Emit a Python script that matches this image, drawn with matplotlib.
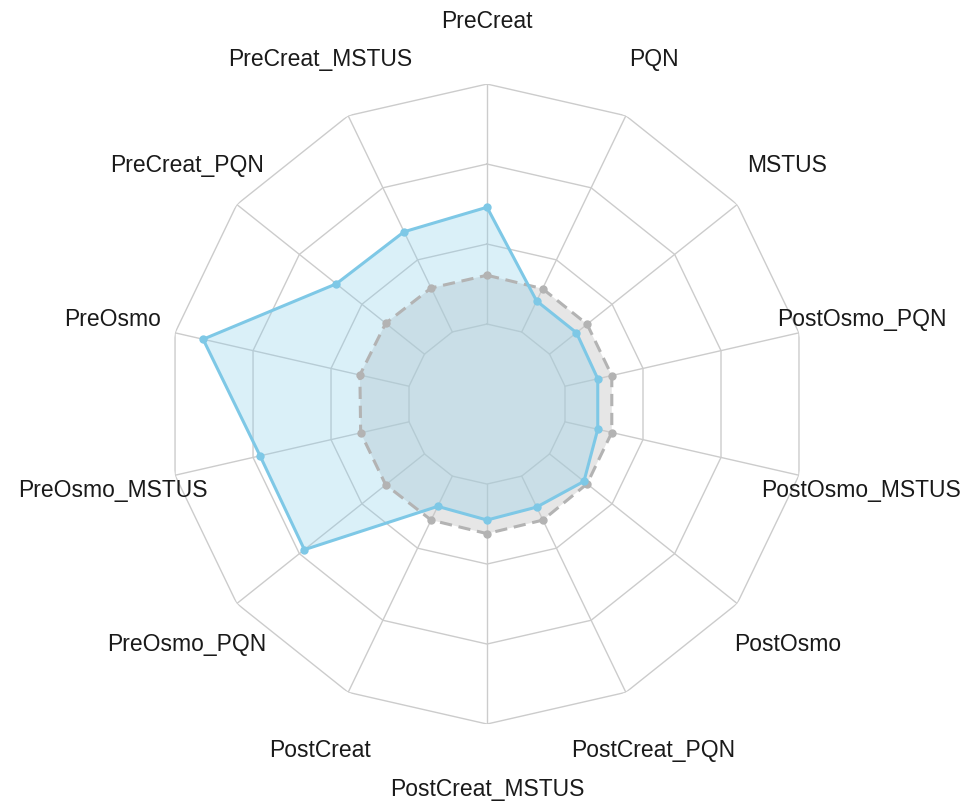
import numpy as np
import matplotlib
matplotlib.use("Agg")
from matplotlib import pyplot as plt

plt.rcParams["font.family"] = ["Liberation Sans", "DejaVu Sans"]

# 数据
categories = ["PreCreat", "PQN", "MSTUS", "PostOsmo_PQN", "PostOsmo_MSTUS",
              "PostOsmo", "PostCreat_PQN", "PostCreat_MSTUS", "PostCreat",
              "PreOsmo_PQN", "PreOsmo_MSTUS", "PreOsmo", "PreCreat_PQN",
              "PreCreat_MSTUS"]
blue_values = [2.46, 1.43, 1.43, 1.42, 1.42, 1.55, 1.43, 1.45, 1.42,
               2.92, 2.91, 3.64, 2.41, 2.39]
gray_values = [1.61, 1.60, 1.60, 1.60, 1.60, 1.60, 1.61, 1.62, 1.61,
               1.62, 1.62, 1.63, 1.62, 1.61]
ring_levels = [1, 2, 3, 4]

n = len(categories)
theta = np.linspace(0, 2 * np.pi, n, endpoint=False)
theta_c = np.append(theta, theta[0])

fig = plt.figure(figsize=(9.75, 8.03), dpi=100)
ax = fig.add_axes([0.1713, 0.0971, 0.6564, 0.797], projection="polar")
ax.set_theta_zero_location("N")
ax.set_theta_direction(-1)
ax.set_ylim(0, ring_levels[-1])
ax.grid(False)
ax.spines["polar"].set_visible(False)
ax.set_xticks([])
ax.set_yticks([])
ax.patch.set_alpha(0)

grid_color = "#cccccc"
# 多边形网格（辐射线从第一圈开始）
for lv in ring_levels:
    ax.plot(theta_c, [lv] * (n + 1), color=grid_color, lw=1.0, zorder=1)
for t in theta:
    ax.plot([t, t], [ring_levels[0], ring_levels[-1]], color=grid_color,
            lw=1.0, zorder=1)

# 灰色参考系列
g = np.append(gray_values, gray_values[0])
ax.fill(theta_c, g, color="#c8c8c8", alpha=0.45, zorder=2, lw=0)
ax.plot(theta_c, g, color="#b3b3b3", lw=2.2, ls=(0, (4, 2.2)), zorder=3)
ax.plot(theta, gray_values, "o", color="#b3b3b3", ms=5, zorder=3)

# 蓝色系列
b = np.append(blue_values, blue_values[0])
ax.fill(theta_c, b, color="#87ceeb", alpha=0.3, zorder=2, lw=0)
ax.plot(theta_c, b, color="#7ec8e6", lw=2.2, zorder=4)
ax.plot(theta, blue_values, "o", color="#7ec8e6", ms=5, zorder=4)

# 类别标签
for t, lab in zip(theta, categories):
    ax.text(t, 4.8, lab, ha="center", va="center", fontsize=16.5,
            color="#1a1a1a", clip_on=False)

fig.savefig("out.png", dpi=100, facecolor="white")
